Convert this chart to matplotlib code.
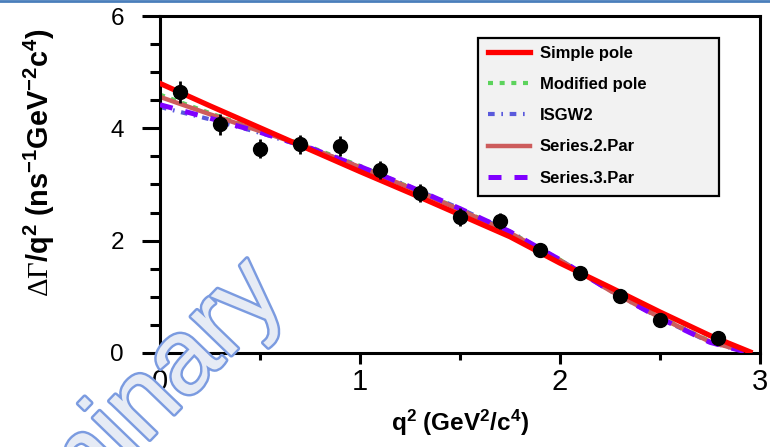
import numpy as np
import matplotlib
matplotlib.use('Agg')
import matplotlib.pyplot as plt
import matplotlib.patheffects as pe
from matplotlib.lines import Line2D
from matplotlib.patches import Rectangle


# measured points
q2_data = [0.1, 0.3, 0.5, 0.7, 0.9, 1.1, 1.3, 1.5, 1.7, 1.9, 2.1, 2.3, 2.5, 2.79]
rate_data = [4.65, 4.07, 3.64, 3.72, 3.68, 3.26, 2.85, 2.42, 2.35, 1.83, 1.42, 1.01, 0.58, 0.27]
rate_err = [0.20, 0.19, 0.17, 0.17, 0.18, 0.16, 0.16, 0.16, 0.15, 0.10, 0.06, 0.05, 0.05, 0.05]

# model curves
q2_fit = [0.0, 0.25, 0.5, 0.75, 1.0, 1.25, 1.5, 1.75, 2.0, 2.25, 2.5, 2.75, 2.95]
simple_pole = [4.80, 4.40, 4.01, 3.62, 3.23, 2.85, 2.46, 2.07, 1.60, 1.17, 0.73, 0.31, 0.02]
modified_pole = [4.60, 4.27, 3.96, 3.67, 3.33, 2.95, 2.56, 2.15, 1.66, 1.12, 0.64, 0.21, 0.0]
isgw2 = [4.38, 4.16, 3.92, 3.64, 3.32, 2.96, 2.57, 2.16, 1.66, 1.11, 0.62, 0.19, 0.0]
series2 = [4.56, 4.25, 3.95, 3.65, 3.31, 2.94, 2.55, 2.14, 1.65, 1.11, 0.63, 0.20, 0.0]
series3 = [4.42, 4.18, 3.93, 3.65, 3.32, 2.96, 2.57, 2.16, 1.66, 1.11, 0.62, 0.19, 0.0]


def main():
    plt.rcParams['font.family'] = ['Liberation Sans', 'DejaVu Sans']
    plt.rcParams['mathtext.fontset'] = 'custom'
    plt.rcParams['mathtext.rm'] = 'Liberation Sans:bold'
    plt.rcParams['mathtext.it'] = 'Liberation Sans:bold'
    plt.rcParams['mathtext.bf'] = 'Liberation Sans:bold'
    plt.rcParams['mathtext.sf'] = 'Liberation Serif'

    fig = plt.figure(figsize=(7.7, 4.47), dpi=100)
    ax = fig.add_axes([0.2078, 0.2103, 0.7792, 0.7539])

    ax.plot(q2_fit, modified_pole, color='#5cd35c', lw=3, ls=(0, (1.2, 1.6)), label='Modified pole', zorder=2)
    ax.plot(q2_fit, isgw2, color='#5a5adc', lw=3, ls=(0, (1.6, 1.6, 0.4, 1.6)), label='ISGW2', zorder=2)
    ax.plot(q2_fit, series2, color='#cd5c5c', lw=3.2, label='Series.2.Par', zorder=2)
    ax.plot(q2_fit, series3, color='#8000ff', lw=3.6, ls=(0, (2.6, 2.6)), label='Series.3.Par', zorder=3)
    ax.plot(q2_fit, simple_pole, color='#ff0000', lw=3.8, label='Simple pole', zorder=4)

    ax.errorbar(q2_data, rate_data, yerr=rate_err, fmt='o', color='black', ms=10,
                elinewidth=2, capsize=0, zorder=5)

    ax.set_xlim(0, 3)
    ax.set_ylim(0, 6)
    ax.set_xticks([0, 1, 2, 3])
    ax.set_xticks([0.5, 1.5, 2.5], minor=True)
    ax.set_yticks([0, 2, 4, 6])
    ax.set_yticks(np.arange(0.5, 6, 0.5), minor=True)
    for s in ax.spines.values():
        s.set_linewidth(2.2)
    ax.tick_params(axis='y', which='major', length=13, width=2.2, labelsize=17.5, pad=13)
    ax.tick_params(axis='y', which='minor', length=7, width=2.2)
    ax.tick_params(axis='x', which='major', length=8, width=2.2, labelsize=21, pad=3)
    ax.tick_params(axis='x', which='minor', length=5, width=2.2)

    ax.set_xlabel(r'q$^2$ (GeV$^2$/c$^4$)', fontsize=17.5, fontweight='bold', labelpad=8)
    ax.set_ylabel(r'$\mathsf{\Delta\Gamma}$/q$^2$ (ns$^{-1}$GeV$^{-2}$c$^4$)', fontsize=20.8,
                  fontweight='bold')
    ax.yaxis.set_label_coords(-0.172, 0.565)

    # legend box (excel-style, wide on the right)
    ax.add_patch(Rectangle((0.53, 0.466), 0.4017, 0.4687, transform=ax.transAxes,
                           facecolor='#f2f2f2', edgecolor='black', lw=1.6, zorder=7))
    h, l = ax.get_legend_handles_labels()
    order = [4, 0, 1, 2, 3]
    leg = ax.legend([h[i] for i in order], [l[i] for i in order], loc='upper left',
                    bbox_to_anchor=(0.5467, 0.911), frameon=False,
                    prop={'weight': 'bold', 'size': 12}, handlelength=2.5,
                    handletextpad=0.6, labelspacing=0.97, borderpad=0,
                    borderaxespad=0)
    leg.set_zorder(8)

    # watermark
    fig.text(0.373, 0.335, 'Preliminary', fontsize=76, color='#e6ebf5',
             rotation=46, ha='right', va='baseline', rotation_mode='anchor',
             path_effects=[pe.Stroke(linewidth=3.5, foreground='#7b9be0'), pe.Normal()],
             zorder=10)

    fig.add_artist(Line2D([0, 1], [0.998, 0.998], color='#4a7ebb', lw=2))

    plt.savefig('out.png', dpi=100)
    plt.close()


if __name__ == '__main__':
    main()
